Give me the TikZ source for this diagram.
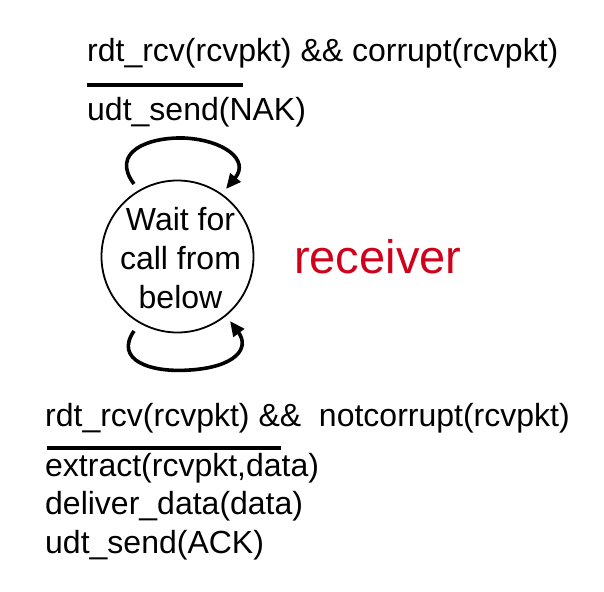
\documentclass[tikz,border=0pt]{standalone}
\usepackage{fontspec}
\setmainfont{Liberation Sans}
\usetikzlibrary{arrows.meta}
\definecolor{recred}{RGB}{208,2,27}
\begin{document}
\begin{tikzpicture}[x=1pt,y=-1pt,
  lbl/.style={inner sep=0pt,anchor=base west,font=\fontsize{32}{39}\selectfont},
  state/.style={circle,draw,line width=1.8pt,minimum size=152pt,inner sep=0pt},
  statetext/.style={align=center,inner sep=0pt,font=\fontsize{32}{39}\selectfont},
  loop/.style={line width=3.6pt,-{Triangle[length=15pt,width=13pt]}},
  rule/.style={line width=4pt}]
\useasboundingbox (0,0) rectangle (604,591);
% state
\node[state,label={[statetext,xshift=3pt,yshift=-2pt]center:Wait for\\call from\\below}] (s) at (177.5,256.5) {};
% top label
\node[lbl] (t1) at (87,62) {rdt\_rcv(rcvpkt) \&\& corrupt(rcvpkt)};
\draw[rule] (87,85) -- (243,85);
\node[lbl] (t2) at (87,121) {udt\_send(NAK)};
% bottom label
\node[lbl] (b1) at (45,426) {rdt\_rcv(rcvpkt) \&\&\ \ notcorrupt(rcvpkt)};
\draw[rule] (47,448) -- (281,448);
\node[lbl] (b2) at (45,476) {extract(rcvpkt,data)};
\node[lbl] (b3) at (45,514) {deliver\_data(data)};
\node[lbl] (b4) at (45,553) {udt\_send(ACK)};
% receiver
\node[inner sep=0pt,anchor=base west,text=recred,font=\fontsize{47}{56}\selectfont] (r) at (294,273) {receiver};
% loops
\coordinate (ta) at (134,184);
\coordinate (tb) at (226,189);
\coordinate (ba) at (134,331);
\coordinate (bb) at (230,321);
\draw[loop] (ta) .. controls (110,152) and (148,137) .. (184,138)
  .. controls (224,140) and (250,160) .. (tb);
\draw[loop] (ba) .. controls (114,360) and (150,373) .. (190,370)
  .. controls (236,367) and (250,348) .. (bb);
\end{tikzpicture}
\end{document}
